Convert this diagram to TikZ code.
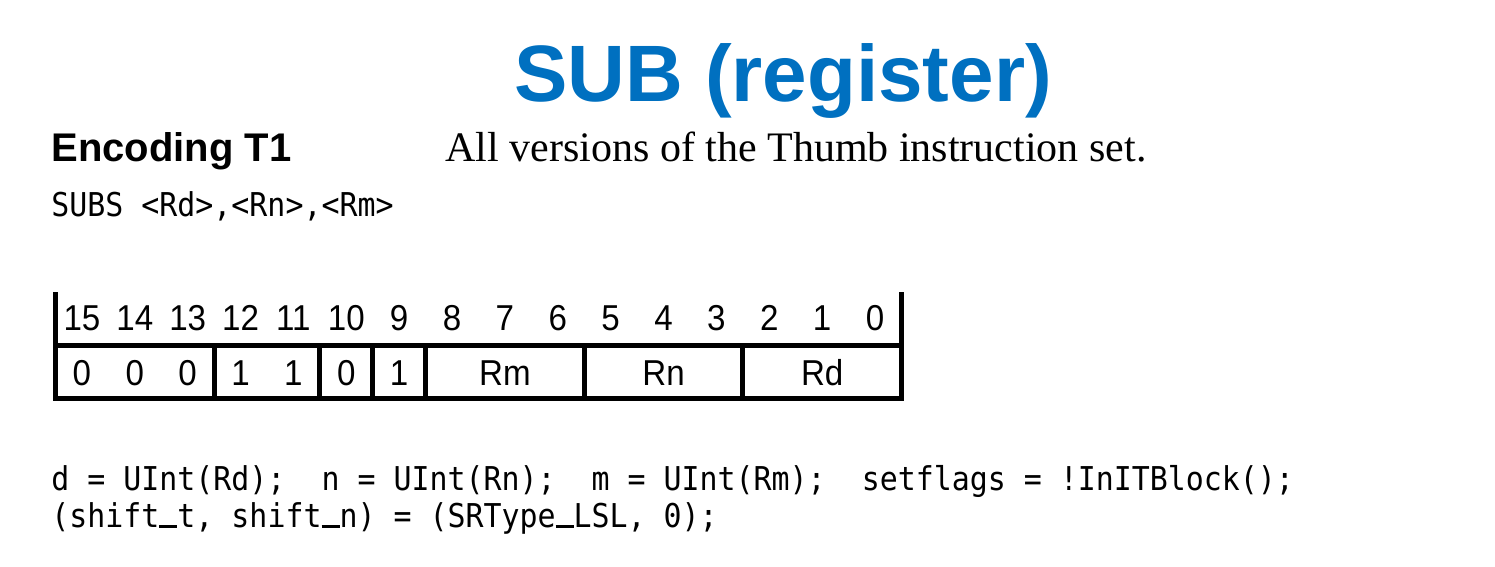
\documentclass[tikz,border=0pt]{standalone}
\usepackage{fontspec}
\setmainfont{Liberation Sans}
\newfontfamily\timesfont{Liberation Serif}
\newfontfamily\codefont[FakeStretch=0.912]{DejaVu Sans Mono}
\newfontfamily\bitfont[FakeStretch=0.92]{Liberation Sans}
\usetikzlibrary{positioning}

\definecolor{titleblue}{RGB}{0,112,192}

% underscore of one mono cell
\newcommand\usc{\makebox[0.549em][c]{\rule[-0.03em]{0.549em}{0.08em}}}

\tikzset{
	txt/.style={inner sep=0pt, anchor=base west},
	bitnum/.style={inner sep=0pt, anchor=base, font=\bitfont\fontsize{18}{21}\selectfont},
	code/.style={txt, font=\codefont\fontsize{16.4}{19}\selectfont},
	frame/.style={line width=2.5pt, line join=miter},
}

\begin{document}
\begin{tikzpicture}[x=0.5pt, y=-0.5pt]
		\useasboundingbox (0,0) rectangle (1495,567);

		\node (title) [anchor=base, inner sep=0pt, text=titleblue, font=\bfseries\fontsize{40}{48}\selectfont] at (783,102) {SUB (register)};
		\node (enc) [txt, font=\bfseries\fontsize{20}{24}\selectfont] at (51,162) {Encoding T1};
		\node (vers) [txt, font=\timesfont\fontsize{21}{25}\selectfont] at (445,162) {All versions of the Thumb instruction set.};
		\node (syntax) [code] at (51,217) {SUBS <Rd>,<Rn>,<Rm>};

		% bit numbers
		\foreach \b in {0,...,15}
			\node (b\b) [bitnum] at ({55.5+(15.5-\b)*52.875},330) {\b};

		% field values
		\foreach \b/\v in {15/0, 14/0, 13/0, 12/1, 11/1, 10/0, 9/1, 7/Rm, 4/Rn, 1/Rd}
			\node (f\b) [bitnum] at ({55.5+(15.5-\b)*52.875},385) {\v};

		% frame
		\draw [frame] (55.5,292) -- (55.5,398) -- (901.5,398) -- (901.5,292);
		\draw [frame] (55.5,345.5) -- (901.5,345.5);
		\foreach \k in {3,5,6,7,10,13}
			\draw [frame] ({55.5+\k*52.875},345.5) -- ({55.5+\k*52.875},398);

		\node (dec1) [code] at (51,490) {d = UInt(Rd); \ n = UInt(Rn); \ m = UInt(Rm); \ setflags = !InITBlock();};
		\node (dec2) [code] at (51,527) {(shift\usc t, shift\usc n) = (SRType\usc LSL, 0);};
	\end{tikzpicture}
\end{document}
